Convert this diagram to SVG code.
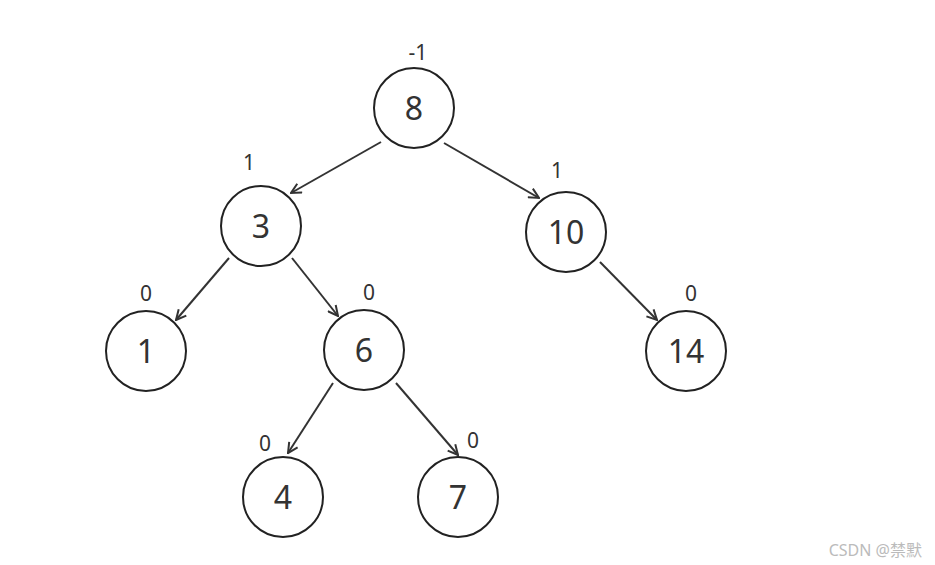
<svg xmlns="http://www.w3.org/2000/svg" width="935" height="565" viewBox="0 0 935 565">
<style>
.n{fill:#fff;stroke:#222;stroke-width:2}
.t{font-family:"Noto Sans","Open Sans",sans-serif;font-size:32px;fill:#333;text-anchor:middle}
.b{font-family:"Noto Sans","Open Sans",sans-serif;font-size:21px;fill:#333;text-anchor:middle}
.e{stroke:#333;stroke-width:2;fill:none;marker-end:url(#a)}
.w{font-family:"Noto Sans","Noto Sans CJK SC",sans-serif;font-size:16px;fill:#bbb;text-anchor:end}
</style>
<defs>
<marker id="a" viewBox="0 0 12 12" refX="11" refY="6" markerWidth="12" markerHeight="12" markerUnits="userSpaceOnUse" orient="auto">
<path d="M1,1 L11,6 L1,11" fill="none" stroke="#333" stroke-width="2"/>
</marker>
</defs>
<rect width="935" height="565" fill="#fff"/>
<g id="edges">
<line class="e" x1="381" y1="142" x2="291" y2="193"/>
<line class="e" x1="444" y1="143" x2="539" y2="198"/>
<line class="e" x1="229" y1="258" x2="176" y2="320"/>
<line class="e" x1="292" y1="258" x2="338" y2="316"/>
<line class="e" x1="600" y1="262" x2="657" y2="320"/>
<line class="e" x1="333" y1="383" x2="288" y2="453"/>
<line class="e" x1="396" y1="383" x2="458" y2="455"/>
</g>
<g id="n8"><circle class="n" cx="414" cy="108" r="40"/><text class="t" x="414" y="120">8</text><text class="b" x="418" y="60">-1</text></g>
<g id="n3"><circle class="n" cx="261" cy="226" r="40"/><text class="t" x="261" y="238">3</text><text class="b" x="249" y="170">1</text></g>
<g id="n10"><circle class="n" cx="566" cy="232" r="40"/><text class="t" x="566" y="244">10</text><text class="b" x="557" y="178">1</text></g>
<g id="n1"><circle class="n" cx="146" cy="351" r="40"/><text class="t" x="146" y="363">1</text><text class="b" x="146" y="301">0</text></g>
<g id="n6"><circle class="n" cx="364" cy="350" r="40"/><text class="t" x="364" y="362">6</text><text class="b" x="369" y="300">0</text></g>
<g id="n14"><circle class="n" cx="686" cy="351" r="40"/><text class="t" x="686" y="363">14</text><text class="b" x="691" y="301">0</text></g>
<g id="n4"><circle class="n" cx="283" cy="497" r="40"/><text class="t" x="283" y="509">4</text><text class="b" x="265" y="451">0</text></g>
<g id="n7"><circle class="n" cx="458" cy="497" r="40"/><text class="t" x="458" y="509">7</text><text class="b" x="473" y="448">0</text></g>
<text class="w" x="922" y="556">CSDN @禁默</text>
</svg>
